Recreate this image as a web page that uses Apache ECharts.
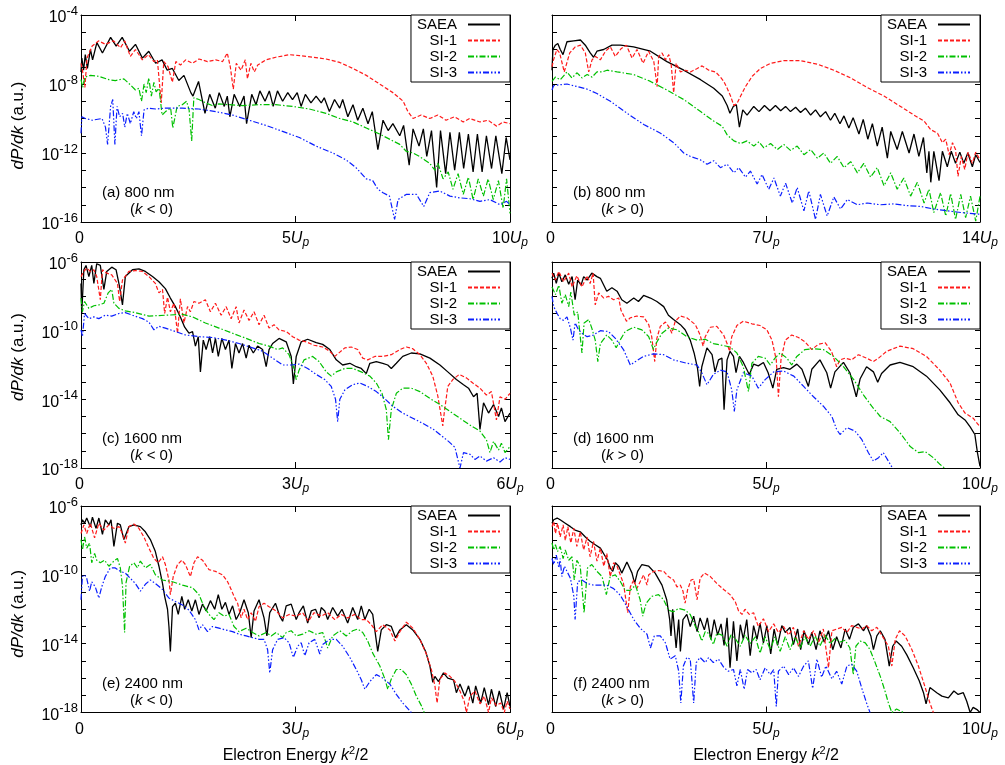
<!DOCTYPE html>
<html><head><meta charset="utf-8">
<script src="https://cdn.jsdelivr.net/npm/echarts@6/dist/echarts.min.js"></script>
<style>html,body{margin:0;padding:0;background:#fff}#c{width:1005px;height:765px}</style>
</head><body><div id="c"></div>
<script>
// ---------- categories / labels ----------
const seriesNames = ['SAEA', 'SI-1', 'SI-2', 'SI-3'];
const panelLabels = ['(a) 800 nm', '(b) 800 nm', '(c) 1600 nm', '(d) 1600 nm', '(e) 2400 nm', '(f) 2400 nm'];
const panelSigns = ['<', '>', '<', '>', '<', '>'];
const xMax = [10, 14, 6, 10, 6, 10];      // in units of Up
const xStep = [5, 7, 3, 5, 3, 5];
const yMin = [-16, -16, -18, -18, -18, -18]; // log10(dP/dk)
const yMax = [-4, -4, -6, -6, -6, -6];
const yLabelStep = 4;

// ---------- data: [energy (Up), log10 dP/dk] ----------
// (a) 800 nm, k<0
const a_SAEA = [[0,-7.3],[0.02,-6.5],[0.06,-7.2],[0.1,-6.3],[0.15,-7.1],[0.22,-6.0],[0.27,-6.6],[0.37,-5.6],[0.5,-6.2],[0.69,-5.3],[0.82,-5.8],[0.96,-5.3],[1.13,-6.1],[1.27,-5.7],[1.43,-6.5],[1.58,-6.1],[1.74,-6.8],[1.89,-6.6],[2.01,-7.2],[2.13,-7.1],[2.28,-7.8],[2.4,-7.5],[2.56,-8.5],[2.61,-8.7],[2.74,-7.85],[2.89,-9.7],[3.0,-8.6],[3.13,-9.4],[3.22,-8.5],[3.34,-9.3],[3.41,-8.7],[3.47,-9.9],[3.57,-8.6],[3.7,-9.3],[3.8,-8.7],[3.86,-10.3],[3.98,-8.6],[4.08,-9.2],[4.17,-8.4],[4.29,-9.0],[4.39,-8.4],[4.48,-9.3],[4.58,-8.4],[4.7,-9.0],[4.82,-8.5],[4.93,-8.9],[5.04,-8.5],[5.13,-9.3],[5.23,-8.6],[5.36,-9.1],[5.48,-8.7],[5.6,-9.1],[5.67,-8.8],[5.79,-9.6],[5.91,-8.9],[6.03,-9.4],[6.1,-8.9],[6.22,-9.9],[6.34,-9.2],[6.45,-10.1],[6.57,-9.4],[6.69,-10.3],[6.79,-9.6],[6.92,-11.8],[7.04,-10.1],[7.16,-10.7],[7.27,-10.3],[7.43,-11.0],[7.52,-10.4],[7.65,-12.7],[7.74,-10.6],[7.88,-11.6],[7.98,-10.6],[8.06,-12.2],[8.17,-10.7],[8.29,-14.0],[8.38,-10.7],[8.5,-13.2],[8.6,-10.8],[8.71,-13.0],[8.82,-10.8],[8.92,-12.9],[9.03,-10.9],[9.14,-13.1],[9.24,-10.9],[9.35,-13.1],[9.45,-11.0],[9.57,-12.9],[9.67,-11.0],[9.81,-13.2],[9.91,-11.1],[10,-12.4]];
const a_SI1 = [[0,-6.8],[0.04,-7.3],[0.09,-8.2],[0.14,-6.5],[0.26,-5.8],[0.41,-5.5],[0.57,-5.7],[0.76,-5.5],[0.92,-5.9],[1.02,-5.5],[1.15,-6.4],[1.27,-6.0],[1.43,-6.6],[1.57,-6.3],[1.7,-6.7],[1.78,-6.6],[1.87,-9.1],[1.93,-6.7],[2.03,-7.0],[2.13,-7.9],[2.21,-6.7],[2.32,-6.9],[2.44,-6.6],[2.6,-6.8],[2.75,-6.55],[2.95,-6.7],[3.14,-6.6],[3.3,-6.7],[3.41,-6.2],[3.48,-7.0],[3.55,-8.3],[3.62,-6.8],[3.73,-7.2],[3.83,-6.6],[3.88,-7.7],[3.96,-6.8],[4.04,-7.3],[4.12,-6.9],[4.31,-6.6],[4.54,-6.45],[4.86,-6.3],[5.09,-6.35],[5.4,-6.45],[5.71,-6.55],[6.03,-6.75],[6.34,-7.1],[6.65,-7.5],[6.96,-8.0],[7.27,-8.5],[7.51,-9.0],[7.62,-9.6],[7.74,-10.0],[7.93,-9.8],[8.13,-10.0],[8.32,-9.8],[8.51,-10.1],[8.71,-9.9],[8.91,-10.2],[9.06,-10.0],[9.3,-10.2],[9.49,-10.1],[9.69,-10.45],[9.84,-10.2],[10,-10.3]];
const a_SI2 = [[0,-7.75],[0.04,-8.2],[0.09,-7.6],[0.22,-7.5],[0.41,-7.55],[0.65,-7.75],[0.8,-7.8],[1.0,-7.7],[1.15,-8.05],[1.27,-8.35],[1.35,-8.25],[1.41,-9.0],[1.47,-8.0],[1.52,-8.5],[1.58,-7.65],[1.64,-8.7],[1.7,-7.9],[1.75,-8.45],[1.82,-8.25],[1.89,-9.8],[1.97,-9.6],[2.09,-9.4],[2.14,-10.55],[2.24,-9.3],[2.36,-9.2],[2.46,-9.0],[2.52,-9.5],[2.58,-11.3],[2.63,-8.8],[2.75,-8.9],[2.91,-9.1],[3.06,-9.25],[3.22,-9.15],[3.45,-9.2],[3.76,-9.25],[4.15,-9.2],[4.54,-9.2],[4.93,-9.3],[5.32,-9.45],[5.71,-9.7],[6.03,-10.0],[6.34,-10.2],[6.65,-10.55],[6.96,-10.9],[7.27,-11.3],[7.43,-11.5],[7.58,-11.9],[7.74,-12.0],[7.89,-12.2],[8.01,-12.4],[8.13,-12.6],[8.25,-13.0],[8.32,-12.6],[8.44,-13.5],[8.56,-13.1],[8.67,-14.1],[8.79,-13.2],[8.91,-14.4],[9.03,-13.4],[9.14,-14.7],[9.26,-13.5],[9.38,-14.5],[9.49,-13.5],[9.61,-14.7],[9.73,-13.6],[9.84,-15.2],[9.92,-13.5],[10,-15.5]];
const a_SI3 = [[0,-10.85],[0.02,-9.9],[0.1,-10.0],[0.26,-10.1],[0.49,-10.0],[0.57,-10.5],[0.62,-11.5],[0.69,-9.3],[0.74,-8.9],[0.79,-11.5],[0.84,-9.3],[0.9,-9.9],[0.97,-9.7],[1.02,-10.5],[1.08,-9.7],[1.15,-10.3],[1.23,-9.6],[1.29,-10.0],[1.35,-9.6],[1.41,-11.0],[1.47,-9.5],[1.58,-9.4],[1.74,-9.45],[1.97,-9.4],[2.36,-9.4],[2.75,-9.45],[3.14,-9.6],[3.53,-9.8],[3.92,-10.1],[4.31,-10.4],[4.7,-10.75],[5.09,-11.1],[5.48,-11.6],[5.87,-12.0],[6.18,-12.4],[6.41,-12.85],[6.65,-13.5],[6.8,-13.6],[6.92,-14.1],[7.04,-14.3],[7.19,-14.5],[7.31,-15.85],[7.39,-14.7],[7.58,-14.4],[7.82,-14.4],[7.99,-15.1],[8.13,-14.3],[8.36,-14.2],[8.6,-14.5],[8.83,-14.6],[9.06,-14.65],[9.3,-14.8],[9.53,-14.7],[9.77,-15.0],[9.92,-14.8],[10,-15.0]];

// (b) 800 nm, k>0
const b_SAEA = [[0,-7.2],[0.03,-6.0],[0.11,-5.75],[0.19,-5.65],[0.27,-6.0],[0.36,-6.3],[0.49,-5.55],[0.71,-5.5],[0.93,-5.45],[1.09,-5.75],[1.25,-6.2],[1.36,-6.45],[1.47,-6.1],[1.69,-6.0],[1.96,-5.75],[2.24,-5.75],[2.67,-5.85],[3.22,-6.1],[3.76,-6.7],[4.31,-7.2],[4.86,-7.75],[5.29,-8.25],[5.57,-8.7],[5.73,-9.25],[5.82,-9.7],[5.93,-9.3],[6.03,-9.2],[6.13,-10.5],[6.24,-9.5],[6.38,-9.8],[6.6,-9.3],[6.77,-9.6],[6.95,-9.25],[7.13,-9.55],[7.31,-9.25],[7.48,-9.55],[7.64,-9.3],[7.8,-9.6],[7.97,-9.35],[8.13,-9.65],[8.29,-9.4],[8.46,-9.8],[8.62,-9.5],[8.78,-9.9],[8.95,-9.6],[9.11,-10.1],[9.25,-9.7],[9.42,-10.3],[9.55,-9.85],[9.71,-10.55],[9.85,-9.95],[10.04,-10.9],[10.18,-10.05],[10.33,-11.2],[10.48,-10.3],[10.64,-11.6],[10.8,-10.5],[10.97,-12.3],[11.08,-10.75],[11.29,-11.8],[11.46,-10.75],[11.68,-12.0],[11.84,-10.9],[12.0,-12.2],[12.15,-11.1],[12.26,-13.15],[12.33,-11.9],[12.39,-13.7],[12.49,-11.9],[12.66,-13.6],[12.77,-11.9],[12.93,-12.8],[13.06,-11.9],[13.2,-12.6],[13.34,-11.95],[13.47,-12.6],[13.6,-12.0],[13.75,-12.8],[13.86,-12.1],[14,-12.55]];
const b_SI1 = [[0,-7.0],[0.05,-6.6],[0.16,-6.0],[0.25,-6.2],[0.4,-7.3],[0.58,-6.2],[0.76,-5.85],[0.93,-5.75],[1.09,-6.2],[1.2,-7.3],[1.31,-6.6],[1.42,-6.4],[1.58,-6.6],[1.75,-6.1],[1.91,-5.85],[2.07,-6.4],[2.26,-5.95],[2.43,-5.75],[2.62,-6.5],[2.78,-6.0],[2.98,-6.8],[3.16,-6.1],[3.33,-6.7],[3.44,-8.15],[3.49,-6.4],[3.6,-6.2],[3.71,-6.6],[3.82,-6.3],[3.9,-6.9],[3.98,-8.5],[4.06,-6.8],[4.2,-7.3],[4.37,-7.2],[4.53,-7.3],[4.75,-7.1],[4.91,-6.95],[5.13,-7.2],[5.35,-7.3],[5.51,-7.6],[5.62,-7.85],[5.73,-8.25],[5.84,-8.7],[5.95,-9.25],[6.06,-9.1],[6.17,-8.7],[6.33,-8.15],[6.55,-7.55],[6.82,-7.1],[7.15,-6.8],[7.58,-6.65],[8.13,-6.65],[8.68,-6.85],[9.22,-7.2],[9.77,-7.65],[10.31,-8.2],[10.86,-8.7],[11.4,-9.3],[11.84,-9.8],[12.17,-10.15],[12.39,-10.65],[12.61,-10.85],[12.77,-11.4],[12.88,-11.2],[12.99,-12.1],[13.1,-11.4],[13.2,-11.8],[13.28,-13.35],[13.39,-12.2],[13.5,-12.95],[13.61,-11.95],[13.75,-12.6],[13.86,-11.95],[14,-12.4]];
const b_SI2 = [[0,-7.85],[0.11,-7.6],[0.27,-7.75],[0.49,-7.3],[0.65,-7.65],[0.82,-7.35],[0.98,-7.65],[1.15,-7.45],[1.31,-7.6],[1.47,-7.3],[1.64,-7.3],[1.8,-7.2],[2.13,-7.3],[2.67,-7.45],[3.22,-7.85],[3.76,-8.35],[4.31,-8.9],[4.86,-9.6],[5.29,-10.15],[5.57,-10.45],[5.73,-10.95],[5.95,-11.3],[6.17,-11.45],[6.38,-11.3],[6.6,-11.6],[6.77,-11.35],[6.93,-11.7],[7.15,-11.45],[7.37,-11.8],[7.58,-11.5],[7.8,-11.85],[8.02,-11.6],[8.24,-12.1],[8.46,-11.8],[8.68,-12.3],[8.89,-12.0],[9.11,-12.6],[9.33,-12.2],[9.55,-12.85],[9.77,-12.5],[9.99,-13.15],[10.2,-12.6],[10.42,-13.4],[10.64,-12.85],[10.86,-13.9],[11.08,-13.15],[11.29,-14.1],[11.51,-13.45],[11.73,-14.5],[11.95,-13.7],[12.17,-14.9],[12.33,-14.1],[12.49,-15.45],[12.71,-14.3],[12.88,-15.65],[13.04,-14.35],[13.2,-15.85],[13.37,-14.4],[13.53,-15.75],[13.69,-14.5],[13.86,-15.95],[14,-14.5]];
const b_SI3 = [[0,-8.35],[0.05,-8.1],[0.22,-8.05],[0.49,-8.0],[0.82,-8.15],[1.15,-8.3],[1.47,-8.55],[1.91,-9.0],[2.46,-9.7],[3.0,-10.35],[3.55,-10.85],[3.98,-11.4],[4.31,-12.0],[4.53,-12.2],[4.86,-12.4],[5.07,-12.65],[5.29,-12.45],[5.51,-12.85],[5.73,-12.65],[5.95,-13.15],[6.11,-12.85],[6.33,-13.4],[6.49,-13.05],[6.71,-13.8],[6.87,-13.25],[7.09,-14.1],[7.26,-13.45],[7.47,-14.5],[7.64,-13.75],[7.86,-14.9],[8.02,-14.0],[8.24,-15.35],[8.4,-14.2],[8.62,-15.85],[8.78,-14.4],[9.0,-15.65],[9.22,-14.55],[9.44,-15.25],[9.66,-14.7],[9.99,-15.0],[10.31,-14.9],[10.75,-15.0],[11.19,-14.95],[11.62,-15.05],[12.06,-15.1],[12.49,-15.25],[12.93,-15.35],[13.37,-15.45],[14,-15.55]];

// (c) 1600 nm, k<0
const c_SAEA = [[0,-7.25],[0.01,-9.0],[0.04,-6.45],[0.07,-6.2],[0.11,-6.85],[0.15,-6.2],[0.18,-7.25],[0.22,-6.1],[0.27,-6.2],[0.32,-7.6],[0.36,-6.55],[0.43,-6.3],[0.49,-6.45],[0.54,-7.45],[0.58,-8.5],[0.62,-6.85],[0.72,-6.45],[0.81,-6.4],[0.9,-6.55],[1.0,-6.85],[1.09,-7.15],[1.18,-7.55],[1.25,-8.1],[1.32,-8.6],[1.39,-9.2],[1.45,-9.8],[1.51,-10.15],[1.56,-10.05],[1.6,-10.9],[1.64,-10.35],[1.67,-12.4],[1.71,-10.55],[1.75,-11.1],[1.8,-10.35],[1.84,-11.3],[1.88,-10.45],[1.92,-11.5],[1.97,-10.45],[2.02,-11.1],[2.07,-10.55],[2.11,-12.2],[2.16,-10.75],[2.21,-11.3],[2.26,-10.75],[2.31,-11.6],[2.35,-10.85],[2.41,-11.3],[2.47,-10.9],[2.54,-11.1],[2.59,-12.1],[2.63,-11.1],[2.68,-10.75],[2.77,-10.45],[2.87,-10.65],[2.94,-11.5],[2.97,-13.1],[3.01,-11.5],[3.08,-10.65],[3.17,-10.5],[3.29,-10.7],[3.38,-10.8],[3.48,-11.1],[3.57,-11.7],[3.66,-12.0],[3.76,-11.9],[3.85,-12.1],[3.92,-12.2],[3.99,-12.5],[4.04,-11.9],[4.13,-11.8],[4.22,-11.9],[4.29,-12.0],[4.34,-12.2],[4.41,-11.9],[4.5,-11.5],[4.62,-11.3],[4.74,-11.35],[4.88,-11.6],[5.02,-12.0],[5.13,-12.4],[5.25,-12.85],[5.35,-13.15],[5.42,-13.35],[5.49,-13.85],[5.54,-13.65],[5.58,-15.75],[5.63,-14.2],[5.7,-14.8],[5.77,-14.3],[5.84,-15.0],[5.88,-14.5],[5.93,-15.3],[6,-14.8]];
const c_SI1 = [[0,-6.85],[0.04,-6.55],[0.08,-6.35],[0.13,-6.55],[0.18,-6.45],[0.22,-6.85],[0.27,-8.2],[0.3,-6.45],[0.36,-6.65],[0.43,-6.75],[0.51,-7.25],[0.54,-8.3],[0.58,-7.05],[0.67,-6.55],[0.76,-6.5],[0.86,-6.55],[0.95,-6.85],[1.04,-7.25],[1.09,-7.8],[1.14,-7.6],[1.17,-9.0],[1.21,-8.05],[1.25,-8.9],[1.3,-8.4],[1.35,-10.15],[1.39,-8.15],[1.44,-9.55],[1.49,-8.6],[1.53,-8.9],[1.58,-8.3],[1.65,-8.4],[1.74,-8.2],[1.81,-8.9],[1.88,-8.4],[1.96,-9.1],[2.03,-8.6],[2.1,-9.3],[2.17,-8.6],[2.21,-9.55],[2.28,-8.8],[2.35,-9.4],[2.42,-8.9],[2.49,-9.65],[2.56,-9.1],[2.63,-9.85],[2.7,-9.65],[2.77,-9.95],[2.87,-10.05],[2.96,-10.35],[3.05,-10.55],[3.15,-10.65],[3.26,-10.85],[3.38,-10.95],[3.48,-11.2],[3.55,-11.5],[3.62,-11.25],[3.69,-11.0],[3.78,-10.95],[3.87,-11.1],[3.94,-11.6],[4.01,-11.7],[4.11,-11.5],[4.22,-11.5],[4.34,-11.4],[4.46,-11.1],[4.55,-10.95],[4.64,-11.05],[4.74,-11.4],[4.83,-11.9],[4.92,-12.65],[4.99,-13.8],[5.06,-15.55],[5.08,-14.8],[5.13,-13.25],[5.2,-12.85],[5.29,-12.55],[5.39,-12.75],[5.48,-13.05],[5.58,-13.35],[5.67,-13.75],[5.74,-13.55],[5.81,-15.2],[5.86,-13.85],[5.93,-14.0],[6,-13.65]];
const c_SI2 = [[0,-8.1],[0.02,-8.9],[0.05,-8.3],[0.11,-8.7],[0.18,-8.55],[0.25,-8.5],[0.32,-8.4],[0.38,-7.8],[0.43,-7.6],[0.46,-8.4],[0.53,-8.7],[0.62,-8.85],[0.76,-8.95],[0.95,-9.15],[1.18,-9.1],[1.42,-9.05],[1.56,-9.2],[1.74,-9.55],[1.93,-9.85],[2.12,-10.15],[2.31,-10.45],[2.49,-10.75],[2.63,-10.9],[2.75,-11.1],[2.82,-11.0],[2.91,-11.4],[2.98,-12.2],[3.01,-12.85],[3.05,-12.3],[3.12,-11.7],[3.24,-11.5],[3.33,-11.8],[3.43,-12.4],[3.5,-12.65],[3.57,-12.4],[3.69,-12.2],[3.8,-12.2],[3.92,-12.4],[4.04,-12.65],[4.13,-13.05],[4.21,-13.65],[4.27,-14.6],[4.3,-16.35],[4.34,-14.6],[4.41,-13.65],[4.5,-13.35],[4.62,-13.35],[4.74,-13.55],[4.88,-13.95],[5.02,-14.3],[5.16,-14.7],[5.3,-15.1],[5.44,-15.5],[5.58,-15.85],[5.67,-16.35],[5.72,-17.1],[5.77,-16.45],[5.84,-16.95],[5.88,-16.55],[5.93,-17.1],[6,-16.75]];
const c_SI3 = [[0,-9.95],[0.02,-10.35],[0.05,-9.0],[0.11,-9.3],[0.18,-9.2],[0.25,-9.3],[0.34,-9.1],[0.43,-9.15],[0.53,-9.0],[0.62,-8.95],[0.72,-9.1],[0.86,-9.3],[0.95,-9.5],[1.02,-9.95],[1.09,-9.75],[1.18,-9.85],[1.32,-10.05],[1.46,-10.25],[1.65,-10.35],[1.84,-10.4],[2.03,-10.55],[2.21,-10.75],[2.4,-11.0],[2.54,-11.2],[2.68,-11.6],[2.82,-12.0],[2.94,-12.0],[3.05,-11.95],[3.17,-12.2],[3.29,-12.55],[3.41,-12.85],[3.5,-13.25],[3.56,-14.0],[3.59,-15.3],[3.62,-14.0],[3.69,-13.45],[3.8,-13.15],[3.9,-13.05],[4.01,-13.25],[4.13,-13.55],[4.22,-13.85],[4.36,-14.4],[4.5,-14.8],[4.64,-15.1],[4.78,-15.4],[4.93,-15.75],[5.02,-16.05],[5.14,-16.45],[5.23,-16.8],[5.3,-18.0],[5.35,-17.1],[5.44,-17.2],[5.51,-17.5],[5.58,-17.3],[5.67,-17.6],[5.77,-17.4],[5.86,-17.65],[5.93,-17.4],[6,-17.5]];

// (d) 1600 nm, k>0
const d_SAEA = [[0,-6.95],[0.04,-6.65],[0.1,-7.25],[0.16,-6.65],[0.23,-7.15],[0.31,-6.75],[0.39,-7.3],[0.47,-6.85],[0.54,-8.2],[0.6,-7.05],[0.68,-7.35],[0.74,-6.85],[0.82,-7.05],[0.93,-6.65],[1.05,-6.85],[1.13,-6.95],[1.28,-7.7],[1.4,-7.5],[1.52,-7.7],[1.63,-8.2],[1.75,-8.4],[1.91,-8.1],[2.02,-8.3],[2.14,-7.95],[2.3,-8.1],[2.45,-8.3],[2.61,-8.6],[2.72,-9.1],[2.84,-9.35],[3.0,-9.65],[3.11,-9.95],[3.23,-10.55],[3.32,-11.3],[3.4,-12.2],[3.45,-13.25],[3.5,-12.1],[3.62,-11.0],[3.74,-11.4],[3.81,-12.4],[3.89,-11.7],[3.97,-11.6],[4.02,-14.6],[4.09,-11.7],[4.16,-11.2],[4.24,-11.5],[4.3,-12.45],[4.38,-11.5],[4.46,-11.8],[4.54,-12.2],[4.61,-12.55],[4.71,-11.95],[4.82,-12.05],[4.94,-11.85],[5.05,-12.45],[5.16,-13.35],[5.25,-12.25],[5.41,-12.15],[5.56,-12.25],[5.72,-11.95],[5.84,-12.25],[5.99,-13.25],[6.07,-12.25],[6.26,-11.7],[6.42,-12.45],[6.51,-13.35],[6.61,-12.4],[6.81,-11.85],[6.96,-12.45],[7.11,-13.85],[7.2,-12.8],[7.35,-12.1],[7.51,-12.4],[7.61,-13.0],[7.7,-12.5],[7.9,-12.0],[8.13,-11.85],[8.44,-12.1],[8.75,-12.65],[9.06,-13.45],[9.3,-14.2],[9.49,-14.9],[9.65,-15.2],[9.77,-15.6],[9.88,-16.05],[9.94,-17.1],[10,-17.9]];
const d_SI1 = [[0,-6.65],[0.08,-7.05],[0.16,-6.55],[0.27,-7.15],[0.39,-6.65],[0.47,-7.45],[0.58,-6.8],[0.7,-7.45],[0.82,-6.8],[0.89,-7.25],[0.96,-6.65],[1.01,-8.5],[1.09,-7.8],[1.21,-8.1],[1.32,-8.0],[1.44,-8.2],[1.56,-8.1],[1.61,-8.8],[1.67,-9.1],[1.74,-9.45],[1.83,-9.25],[1.98,-9.15],[2.14,-9.2],[2.26,-9.65],[2.33,-10.35],[2.4,-11.8],[2.45,-10.45],[2.53,-9.75],[2.65,-9.5],[2.75,-9.85],[2.8,-10.15],[2.88,-9.45],[3.0,-9.15],[3.15,-9.25],[3.35,-9.65],[3.46,-10.25],[3.53,-10.9],[3.58,-10.35],[3.7,-9.8],[3.85,-9.75],[4.01,-10.25],[4.09,-10.75],[4.15,-11.2],[4.2,-10.35],[4.32,-9.7],[4.47,-9.45],[4.67,-9.6],[4.86,-9.7],[5.02,-9.95],[5.14,-10.55],[5.24,-11.7],[5.29,-13.85],[5.35,-11.7],[5.45,-10.55],[5.6,-10.25],[5.76,-10.4],[5.91,-10.65],[6.07,-11.1],[6.22,-10.8],[6.38,-10.7],[6.53,-11.2],[6.65,-12.1],[6.73,-11.7],[6.85,-11.6],[7.0,-11.7],[7.16,-11.4],[7.35,-11.6],[7.51,-11.8],[7.63,-11.6],[7.82,-11.2],[8.13,-10.9],[8.44,-11.05],[8.75,-11.5],[9.06,-12.3],[9.3,-13.05],[9.49,-14.2],[9.65,-14.8],[9.84,-15.1],[10,-15.6]];
const d_SI2 = [[0,-7.45],[0.08,-7.9],[0.16,-7.35],[0.23,-8.4],[0.31,-7.9],[0.39,-8.6],[0.44,-7.75],[0.52,-9.1],[0.6,-8.9],[0.66,-10.35],[0.7,-11.3],[0.75,-9.55],[0.86,-9.35],[0.93,-9.85],[1.01,-10.55],[1.07,-11.8],[1.13,-10.75],[1.28,-10.25],[1.4,-10.55],[1.5,-11.0],[1.58,-10.6],[1.71,-10.05],[1.91,-9.8],[2.1,-9.95],[2.26,-10.35],[2.37,-11.1],[2.43,-10.75],[2.57,-10.15],[2.72,-9.85],[2.92,-9.95],[3.15,-10.35],[3.39,-10.55],[3.58,-10.5],[3.77,-10.75],[3.97,-10.85],[4.16,-10.95],[4.32,-11.3],[4.47,-12.1],[4.59,-13.55],[4.67,-11.9],[4.82,-11.5],[4.98,-11.6],[5.1,-12.0],[5.21,-11.6],[5.33,-11.3],[5.49,-11.6],[5.6,-12.0],[5.72,-11.5],[5.91,-11.1],[6.11,-11.05],[6.34,-11.1],[6.58,-11.5],[6.81,-12.1],[7.05,-12.85],[7.28,-13.75],[7.47,-14.4],[7.67,-15.0],[7.9,-15.3],[8.13,-15.95],[8.37,-16.75],[8.56,-17.1],[8.72,-17.05],[8.91,-17.4],[9.07,-17.8],[9.22,-18.1]];
const d_SI3 = [[0,-8.0],[0.04,-8.6],[0.12,-9.0],[0.19,-9.3],[0.27,-9.4],[0.35,-9.2],[0.43,-9.85],[0.49,-10.55],[0.54,-9.55],[0.62,-9.95],[0.7,-10.15],[0.82,-10.35],[0.97,-10.25],[1.13,-10.0],[1.32,-10.05],[1.48,-10.45],[1.67,-11.1],[1.83,-12.0],[1.95,-11.8],[2.14,-11.5],[2.37,-11.35],[2.61,-11.4],[2.84,-11.7],[3.15,-11.9],[3.39,-12.0],[3.5,-12.45],[3.62,-13.15],[3.77,-12.55],[3.93,-12.3],[4.09,-12.4],[4.2,-13.45],[4.26,-14.7],[4.32,-13.45],[4.47,-12.45],[4.67,-12.65],[4.82,-13.35],[4.98,-12.85],[5.18,-12.4],[5.41,-12.35],[5.65,-12.65],[5.88,-13.25],[6.11,-13.85],[6.34,-14.4],[6.54,-15.0],[6.65,-15.75],[6.73,-16.05],[6.89,-15.65],[7.08,-15.85],[7.24,-16.35],[7.39,-17.1],[7.51,-17.6],[7.63,-17.4],[7.74,-17.1],[7.86,-17.6],[7.98,-18.1]];

// (e) 2400 nm, k<0
const e_SAEA = [[0,-7.1],[0.02,-6.8],[0.05,-7.0],[0.08,-6.7],[0.13,-7.2],[0.16,-6.65],[0.21,-7.3],[0.25,-6.7],[0.3,-7.65],[0.34,-6.8],[0.39,-7.1],[0.42,-6.8],[0.46,-8.35],[0.51,-7.0],[0.55,-7.1],[0.6,-7.95],[0.67,-7.2],[0.74,-7.1],[0.83,-7.2],[0.9,-7.5],[0.97,-7.95],[1.04,-8.65],[1.09,-9.5],[1.14,-10.5],[1.17,-11.25],[1.21,-12.0],[1.23,-13.0],[1.25,-14.45],[1.28,-11.85],[1.32,-11.65],[1.36,-12.3],[1.41,-11.25],[1.45,-12.0],[1.5,-11.45],[1.55,-12.1],[1.6,-11.45],[1.65,-12.3],[1.7,-11.7],[1.75,-12.1],[1.81,-11.5],[1.87,-12.0],[1.92,-11.15],[1.97,-12.0],[2.02,-11.6],[2.07,-12.3],[2.12,-11.8],[2.17,-12.6],[2.22,-12.2],[2.28,-11.45],[2.34,-12.2],[2.38,-13.65],[2.42,-12.1],[2.49,-11.45],[2.56,-12.5],[2.6,-13.55],[2.64,-12.2],[2.72,-11.65],[2.78,-12.4],[2.82,-12.7],[2.87,-11.8],[2.94,-11.7],[3.01,-12.6],[3.05,-12.2],[3.11,-11.8],[3.17,-12.8],[3.22,-12.1],[3.28,-12.0],[3.33,-12.5],[3.36,-11.9],[3.41,-12.1],[3.45,-12.6],[3.52,-11.9],[3.59,-12.4],[3.65,-12.0],[3.73,-12.8],[3.8,-11.9],[3.87,-12.6],[3.92,-11.8],[3.97,-12.6],[4.03,-12.0],[4.08,-12.3],[4.15,-14.45],[4.2,-13.2],[4.27,-12.9],[4.34,-13.0],[4.4,-13.65],[4.46,-13.2],[4.55,-12.9],[4.64,-13.2],[4.74,-13.75],[4.82,-14.45],[4.88,-15.3],[4.92,-16.25],[4.95,-15.9],[5.0,-16.2],[5.07,-15.7],[5.13,-16.0],[5.21,-16.1],[5.25,-16.85],[5.3,-16.35],[5.37,-17.05],[5.42,-16.45],[5.48,-17.45],[5.52,-16.45],[5.59,-17.45],[5.64,-16.55],[5.7,-17.55],[5.74,-16.65],[5.8,-17.65],[5.85,-16.75],[5.91,-17.8],[5.96,-16.85],[6,-17.65]];
const e_SI1 = [[0,-7.6],[0.04,-7.1],[0.08,-7.6],[0.13,-7.0],[0.19,-7.85],[0.25,-7.0],[0.32,-7.4],[0.39,-7.1],[0.46,-7.3],[0.53,-7.2],[0.58,-7.6],[0.62,-8.15],[0.67,-7.2],[0.74,-7.05],[0.81,-7.3],[0.88,-7.8],[0.95,-8.45],[1.02,-9.05],[1.08,-9.3],[1.14,-8.95],[1.18,-9.4],[1.23,-10.3],[1.25,-11.15],[1.29,-10.1],[1.35,-9.4],[1.41,-9.15],[1.46,-9.4],[1.53,-10.1],[1.58,-9.3],[1.63,-8.95],[1.7,-9.15],[1.79,-9.7],[1.88,-9.8],[1.98,-10.0],[2.05,-10.4],[2.1,-10.85],[2.14,-11.25],[2.19,-11.65],[2.24,-12.5],[2.28,-12.0],[2.33,-12.6],[2.38,-12.2],[2.44,-12.7],[2.49,-11.85],[2.56,-11.65],[2.63,-11.85],[2.73,-12.1],[2.82,-12.5],[2.91,-12.3],[3.01,-12.4],[3.1,-12.2],[3.18,-12.7],[3.26,-12.2],[3.36,-12.4],[3.45,-12.2],[3.55,-12.6],[3.64,-12.3],[3.73,-12.5],[3.83,-12.3],[3.92,-12.6],[3.99,-12.6],[4.06,-12.9],[4.13,-13.3],[4.22,-12.9],[4.32,-13.2],[4.39,-13.85],[4.46,-13.3],[4.55,-12.75],[4.64,-13.1],[4.74,-13.75],[4.83,-14.6],[4.9,-15.5],[4.95,-16.45],[4.98,-17.45],[5.02,-16.05],[5.09,-15.7],[5.16,-15.9],[5.23,-16.2],[5.3,-16.75],[5.36,-17.35],[5.39,-18.0],[5.44,-17.05],[5.51,-16.75],[5.58,-17.5],[5.64,-17.05],[5.7,-18.0],[5.74,-17.15],[5.81,-17.6],[5.87,-17.45],[5.92,-18.0],[5.96,-17.35],[6,-17.8]];
const e_SI2 = [[0,-7.95],[0.02,-8.55],[0.05,-7.8],[0.08,-8.45],[0.12,-8.15],[0.15,-9.3],[0.19,-8.75],[0.22,-9.15],[0.27,-9.3],[0.33,-9.15],[0.39,-9.5],[0.46,-9.2],[0.51,-9.05],[0.55,-9.6],[0.58,-10.65],[0.61,-13.35],[0.63,-10.45],[0.68,-9.5],[0.74,-9.3],[0.79,-9.6],[0.83,-9.2],[0.9,-9.6],[0.97,-9.4],[1.04,-10.0],[1.14,-10.3],[1.28,-10.4],[1.42,-10.6],[1.56,-10.75],[1.65,-11.15],[1.72,-11.85],[1.79,-12.3],[1.86,-12.6],[1.93,-12.2],[2.0,-12.4],[2.07,-12.3],[2.14,-13.0],[2.21,-13.3],[2.31,-13.1],[2.4,-13.35],[2.49,-13.55],[2.59,-13.35],[2.66,-13.55],[2.73,-13.35],[2.82,-13.65],[2.87,-13.35],[2.94,-13.25],[3.01,-13.55],[3.1,-13.45],[3.19,-13.25],[3.29,-13.45],[3.38,-13.35],[3.45,-14.25],[3.52,-13.55],[3.62,-13.25],[3.71,-13.55],[3.8,-13.25],[3.87,-13.15],[3.94,-13.35],[4.01,-13.85],[4.08,-14.55],[4.18,-15.3],[4.25,-16.05],[4.29,-16.65],[4.34,-16.05],[4.41,-15.5],[4.48,-15.5],[4.55,-15.8],[4.62,-16.35],[4.69,-17.05],[4.76,-17.6],[4.8,-18.0]];
const e_SI3 = [[0,-11.45],[0.02,-10.1],[0.05,-10.0],[0.08,-10.2],[0.12,-10.95],[0.15,-10.4],[0.2,-10.7],[0.25,-11.35],[0.29,-10.7],[0.34,-10.1],[0.41,-9.6],[0.48,-9.6],[0.55,-9.8],[0.62,-9.9],[0.69,-10.2],[0.76,-10.5],[0.83,-10.95],[0.9,-10.55],[0.97,-10.3],[1.04,-10.5],[1.14,-10.85],[1.23,-11.35],[1.32,-11.55],[1.42,-11.75],[1.51,-12.05],[1.6,-12.6],[1.65,-13.2],[1.7,-12.9],[1.77,-13.3],[1.84,-13.0],[1.93,-13.1],[2.02,-13.2],[2.12,-13.3],[2.21,-13.45],[2.31,-13.55],[2.4,-13.65],[2.49,-13.75],[2.56,-13.75],[2.61,-14.35],[2.64,-15.7],[2.68,-14.35],[2.75,-13.75],[2.84,-13.65],[2.91,-13.95],[2.97,-14.8],[3.03,-14.15],[3.08,-13.95],[3.13,-14.7],[3.19,-13.95],[3.27,-13.75],[3.34,-14.6],[3.38,-14.05],[3.48,-13.75],[3.57,-13.75],[3.66,-14.15],[3.76,-14.8],[3.85,-15.5],[3.92,-16.1],[3.97,-16.65],[4.04,-16.2],[4.13,-15.8],[4.22,-16.0],[4.32,-16.35],[4.41,-16.95],[4.5,-17.45],[4.62,-18.0]];

// (f) 2400 nm, k>0
const f_SAEA = [[0,-7.0],[0.04,-6.8],[0.12,-6.7],[0.19,-6.8],[0.31,-7.0],[0.43,-7.2],[0.54,-7.4],[0.66,-7.5],[0.78,-7.8],[0.89,-8.05],[1.01,-8.25],[1.13,-8.45],[1.25,-8.95],[1.3,-9.15],[1.36,-9.6],[1.42,-9.8],[1.48,-9.3],[1.56,-9.5],[1.63,-9.9],[1.75,-9.25],[1.87,-9.9],[1.93,-10.5],[2.0,-9.8],[2.1,-9.4],[2.26,-9.5],[2.41,-9.9],[2.57,-10.6],[2.68,-11.45],[2.75,-12.6],[2.78,-13.55],[2.82,-12.0],[2.9,-14.25],[2.96,-12.6],[3.0,-14.45],[3.06,-12.6],[3.15,-12.3],[3.23,-13.0],[3.31,-12.4],[3.39,-13.3],[3.46,-12.5],[3.56,-13.2],[3.63,-12.5],[3.71,-13.75],[3.79,-12.6],[3.87,-13.5],[3.95,-12.85],[4.02,-14.1],[4.09,-12.5],[4.16,-15.4],[4.24,-12.7],[4.32,-15.0],[4.4,-12.9],[4.47,-13.75],[4.55,-12.6],[4.63,-14.7],[4.71,-12.95],[4.79,-13.75],[4.86,-12.8],[4.94,-13.95],[5.02,-12.95],[5.11,-14.6],[5.19,-13.15],[5.27,-14.1],[5.37,-12.95],[5.45,-13.35],[5.56,-13.05],[5.64,-14.05],[5.74,-13.15],[5.81,-14.35],[5.89,-13.25],[5.99,-14.05],[6.07,-13.35],[6.17,-14.35],[6.26,-13.25],[6.36,-13.9],[6.46,-13.25],[6.56,-14.35],[6.65,-13.6],[6.75,-14.25],[6.85,-13.15],[6.95,-13.75],[7.04,-13.05],[7.16,-12.85],[7.28,-13.25],[7.35,-12.95],[7.45,-13.55],[7.51,-14.35],[7.59,-13.55],[7.67,-13.25],[7.78,-13.75],[7.88,-15.3],[7.96,-14.15],[8.04,-13.85],[8.17,-14.15],[8.29,-14.65],[8.44,-15.4],[8.58,-16.15],[8.68,-16.85],[8.74,-17.5],[8.83,-16.55],[8.99,-16.85],[9.11,-17.05],[9.26,-17.15],[9.39,-16.75],[9.49,-16.95],[9.61,-16.85],[9.69,-17.35],[9.77,-18.0],[9.84,-17.7],[9.94,-17.85],[10,-18.0]];
const f_SI1 = [[0,-7.2],[0.04,-6.9],[0.08,-7.6],[0.13,-7.0],[0.19,-7.8],[0.26,-7.1],[0.31,-8.0],[0.37,-7.2],[0.44,-8.15],[0.51,-7.3],[0.58,-8.35],[0.66,-7.5],[0.74,-8.55],[0.82,-7.8],[0.89,-8.95],[0.97,-8.05],[1.05,-9.2],[1.13,-8.45],[1.21,-9.5],[1.28,-8.75],[1.36,-10.1],[1.44,-9.3],[1.52,-9.5],[1.61,-10.1],[1.67,-10.5],[1.77,-12.2],[1.83,-10.7],[1.91,-10.3],[1.98,-10.8],[2.06,-10.4],[2.14,-10.0],[2.22,-10.6],[2.26,-10.0],[2.37,-9.8],[2.49,-9.75],[2.61,-9.8],[2.72,-10.1],[2.84,-10.3],[2.92,-10.7],[3.0,-10.6],[3.06,-10.95],[3.11,-11.65],[3.17,-10.85],[3.25,-10.3],[3.31,-10.25],[3.39,-11.45],[3.46,-10.2],[3.56,-9.9],[3.7,-10.1],[3.85,-10.5],[4.01,-10.85],[4.16,-11.15],[4.28,-11.55],[4.36,-12.1],[4.44,-12.3],[4.51,-12.0],[4.61,-12.3],[4.71,-12.2],[4.82,-13.0],[4.94,-12.55],[5.06,-13.3],[5.18,-12.85],[5.29,-13.35],[5.41,-13.0],[5.53,-13.5],[5.64,-13.05],[5.76,-14.15],[5.88,-13.25],[5.99,-13.75],[6.11,-13.25],[6.23,-13.95],[6.34,-13.15],[6.46,-15.4],[6.54,-13.25],[6.65,-13.15],[6.77,-13.05],[6.89,-13.35],[7.0,-12.95],[7.12,-13.05],[7.24,-13.15],[7.35,-12.95],[7.47,-13.25],[7.59,-13.05],[7.74,-13.65],[7.86,-14.15],[7.94,-15.3],[8.02,-13.75],[8.12,-13.25],[8.25,-13.55],[8.41,-14.35],[8.56,-15.3],[8.72,-16.55],[8.83,-17.45],[8.91,-18.0]];
const f_SI2 = [[0,-8.15],[0.04,-8.55],[0.08,-8.25],[0.13,-8.65],[0.19,-8.35],[0.26,-9.05],[0.31,-8.55],[0.39,-9.15],[0.47,-8.95],[0.52,-10.3],[0.58,-9.15],[0.66,-9.5],[0.75,-12.2],[0.83,-9.6],[0.93,-9.4],[1.05,-9.8],[1.17,-10.1],[1.27,-11.15],[1.36,-10.1],[1.48,-10.0],[1.6,-10.4],[1.71,-10.9],[1.83,-10.9],[1.95,-10.6],[2.06,-11.45],[2.12,-12.4],[2.2,-11.65],[2.33,-11.25],[2.49,-11.15],[2.61,-11.45],[2.72,-12.05],[2.84,-12.15],[2.96,-11.95],[3.11,-12.05],[3.23,-12.3],[3.35,-13.0],[3.42,-13.3],[3.5,-13.85],[3.58,-13.3],[3.66,-13.4],[3.77,-14.05],[3.85,-13.4],[3.97,-13.5],[4.09,-14.15],[4.18,-13.5],[4.28,-13.7],[4.4,-14.15],[4.51,-13.5],[4.63,-14.0],[4.75,-13.6],[4.86,-14.55],[4.98,-13.6],[5.1,-14.35],[5.21,-13.6],[5.33,-14.45],[5.45,-13.6],[5.56,-14.35],[5.68,-13.6],[5.8,-14.25],[5.91,-13.6],[6.03,-14.15],[6.15,-13.55],[6.26,-14.15],[6.38,-13.5],[6.5,-14.0],[6.61,-13.7],[6.73,-13.9],[6.85,-13.8],[6.96,-14.25],[7.04,-15.8],[7.1,-14.15],[7.2,-13.85],[7.32,-13.95],[7.43,-14.35],[7.55,-15.1],[7.67,-15.9],[7.78,-16.75],[7.86,-17.45],[7.94,-18.0],[8.05,-17.8],[8.13,-17.9],[8.21,-18.0]];
const f_SI3 = [[0,-9.05],[0.04,-9.4],[0.1,-8.85],[0.16,-9.6],[0.19,-9.05],[0.23,-10.1],[0.29,-9.5],[0.35,-9.8],[0.43,-10.2],[0.51,-11.25],[0.54,-12.6],[0.6,-10.4],[0.7,-10.3],[0.82,-10.5],[0.97,-10.6],[1.13,-10.6],[1.28,-10.6],[1.44,-10.8],[1.6,-11.2],[1.75,-11.85],[1.91,-12.6],[2.06,-13.1],[2.22,-13.45],[2.3,-14.25],[2.39,-13.55],[2.53,-13.55],[2.65,-13.95],[2.76,-14.9],[2.88,-14.7],[2.96,-15.6],[3.01,-17.45],[3.07,-15.3],[3.15,-14.8],[3.23,-14.9],[3.31,-17.45],[3.37,-15.1],[3.46,-14.8],[3.58,-15.1],[3.66,-14.8],[3.77,-15.1],[3.89,-14.9],[4.02,-15.4],[4.12,-15.6],[4.24,-15.5],[4.32,-16.45],[4.4,-15.5],[4.49,-16.65],[4.57,-15.5],[4.67,-15.7],[4.77,-15.5],[4.86,-16.1],[4.98,-15.4],[5.1,-15.8],[5.18,-15.5],[5.24,-17.65],[5.29,-15.6],[5.41,-15.3],[5.53,-15.8],[5.64,-15.4],[5.76,-15.9],[5.88,-15.3],[5.99,-15.0],[6.09,-16.6],[6.19,-14.9],[6.3,-15.95],[6.4,-15.3],[6.54,-16.05],[6.65,-15.6],[6.77,-16.35],[6.89,-15.3],[7.0,-15.2],[7.12,-15.6],[7.24,-16.6],[7.35,-17.45],[7.43,-18.0]];

const panelData = [
  [a_SAEA, a_SI1, a_SI2, a_SI3],
  [b_SAEA, b_SI1, b_SI2, b_SI3],
  [c_SAEA, c_SI1, c_SI2, c_SI3],
  [d_SAEA, d_SI1, d_SI2, d_SI3],
  [e_SAEA, e_SI1, e_SI2, e_SI3],
  [f_SAEA, f_SI1, f_SI2, f_SI3]
];

// ---------- layout & style ----------
const FONT = "'Liberation Sans', Arial, Helvetica, sans-serif";
const grids = [
  {left: 81, top: 15, width: 429, height: 207},
  {left: 552, top: 15, width: 428, height: 207},
  {left: 81, top: 262, width: 429, height: 206},
  {left: 552, top: 262, width: 428, height: 206},
  {left: 81, top: 506, width: 429, height: 207},
  {left: 552, top: 506, width: 428, height: 207}
];
// padding of the rotated y-axis title: [right, left] (shifts the text down / up)
const yNamePad = [[14, 0], null, [0, 16], null, [9, 0], null];
const colors = ['#000000', '#ff1a1a', '#00c000', '#0a1eff'];
const dashes = ['solid', [4, 2], [6, 2, 1.5, 2], [6, 2, 1.5, 2, 1.5, 2]];
const widths = [1.3, 1.2, 1.2, 1.2];

const axisLine = {show: true, onZero: false, lineStyle: {color: '#000', width: 1}};
const xRich = {
  n: {fontSize: 16, fontFamily: FONT, color: '#000'},
  u: {fontSize: 16, fontFamily: FONT, fontStyle: 'italic', color: '#000'},
  p: {fontSize: 12, fontFamily: FONT, fontStyle: 'italic', color: '#000', padding: [8, 0, 0, 0]}
};
const yRich = {
  b: {fontSize: 16, fontFamily: FONT, color: '#000', padding: [6, 0, 0, 0]},
  s: {fontSize: 13, fontFamily: FONT, color: '#000', padding: [0, 0, 8, 0]}
};

const xAxis = [], yAxis = [], series = [], legend = [], graphic = [];
grids.forEach((g, i) => {
  const leftCol = (i % 2 === 0);
  const bottomRow = (i >= 4);
  xAxis.push({
    gridIndex: i, type: 'value', min: 0, max: xMax[i], interval: xStep[i], position: 'bottom',
    axisLine, splitLine: {show: false},
    axisTick: {inside: true, length: 6, lineStyle: {color: '#000'}},
    axisLabel: {margin: 7, rich: xRich,
      formatter: v => v === 0 ? '{n|0}{p| }' : `{n|${v}}{u|U}{p|p}`},
    name: bottomRow ? '{t|Electron Energy }{i|k}{s|2}{t|/2}' : '',
    nameLocation: 'middle', nameGap: 33,
    nameTextStyle: {rich: {
      t: {fontSize: 16, fontFamily: FONT, color: '#000'},
      i: {fontSize: 16, fontFamily: FONT, fontStyle: 'italic', color: '#000'},
      s: {fontSize: 11, fontFamily: FONT, color: '#000', padding: [0, 0, 10, 0]}
    }}
  });
  xAxis.push({
    gridIndex: i, type: 'value', min: 0, max: xMax[i], interval: xStep[i], position: 'top',
    axisLine, splitLine: {show: false}, axisLabel: {show: false},
    axisTick: {inside: true, length: 6, lineStyle: {color: '#000'}}
  });
  const pad = yNamePad[i] || [0, 0];
  yAxis.push({
    gridIndex: i, type: 'value', min: yMin[i], max: yMax[i], interval: 1, position: 'left',
    axisLine, splitLine: {show: false},
    axisTick: {inside: true, length: 5, lineStyle: {color: '#000'}},
    axisLabel: {show: leftCol, margin: 3, rich: yRich, showMinLabel: true, showMaxLabel: true,
      formatter: v => (Math.round(v - yMin[i]) % yLabelStep === 0) ? `{b|10}{s|${Math.round(v)}}` : ''},
    name: leftCol ? '{i|dP/dk}{t| (a.u.)}' : '',
    nameLocation: 'middle', nameRotate: 90, nameGap: 54,
    nameTextStyle: {padding: [0, pad[0], 0, pad[1]], rich: {
      t: {fontSize: 17, fontFamily: FONT, color: '#000'},
      i: {fontSize: 17, fontFamily: FONT, fontStyle: 'italic', color: '#000'}
    }}
  });
  yAxis.push({
    gridIndex: i, type: 'value', min: yMin[i], max: yMax[i], interval: 1, position: 'right',
    axisLine, splitLine: {show: false}, axisLabel: {show: false},
    axisTick: {inside: true, length: 5, lineStyle: {color: '#000'}}
  });
  panelData[i].forEach((d, k) => {
    series.push({
      name: seriesNames[k], type: 'line', xAxisIndex: 2 * i, yAxisIndex: 2 * i,
      data: d, symbol: 'none', showSymbol: false, clip: true, animation: false,
      lineStyle: {color: colors[k], width: widths[k], type: dashes[k]},
      itemStyle: {color: colors[k]}, z: 2 + k
    });
  });
  legend.push({
    orient: 'vertical', right: 1005 - (g.left + g.width), top: g.top,
    data: seriesNames, align: 'right', selectedMode: false,
    itemWidth: 32, itemHeight: 14, itemGap: 1,
    padding: [2, 9, 2, 6],
    itemStyle: {opacity: 0, borderWidth: 0},
    borderColor: '#000', borderWidth: 1, backgroundColor: '#fff', z: 10,
    textStyle: {fontSize: 15, fontFamily: FONT, color: '#000', lineHeight: 14, padding: [0, 6, 0, 0]}
  });
  const bottom = g.top + g.height;
  graphic.push({
    type: 'text', x: g.left + 21, y: bottom - 29, z: 20,
    style: {text: panelLabels[i], fontSize: 15, fontFamily: FONT, fill: '#000', verticalAlign: 'middle', align: 'left'}
  });
  graphic.push({
    type: 'text', x: g.left + 49, y: bottom - 12, z: 20,
    style: {text: `({i|k} ${panelSigns[i]} 0)`, fontSize: 15, fontFamily: FONT, fill: '#000',
      verticalAlign: 'middle', align: 'left',
      rich: {i: {fontSize: 15, fontFamily: FONT, fontStyle: 'italic', fill: '#000'}}}
  });
});

const chart = echarts.init(document.getElementById('c'), null, {renderer: 'canvas'});
chart.setOption({
  animation: false,
  backgroundColor: '#fff',
  grid: grids.map(g => Object.assign({containLabel: false}, g)),
  xAxis, yAxis, series, legend, graphic
});
</script>
</body></html>
